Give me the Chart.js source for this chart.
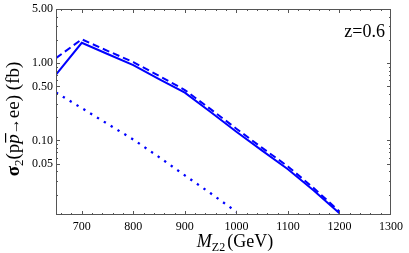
<!DOCTYPE html>
<html>
<head>
<meta charset="utf-8">
<script src="https://cdn.jsdelivr.net/npm/chart.js@4"></script>
<style>
  html, body { margin: 0; padding: 0; background: #fff; }
  #wrap { width: 409px; height: 253px; }
</style>
</head>
<body>
<div id="wrap"><canvas id="c" width="409" height="253"></canvas></div>
<script>
const masses = [650, 700, 750, 800, 850, 900, 950, 1000, 1050, 1100, 1150, 1200];
const solidXsec = [0.71, 1.83, 1.31, 0.94, 0.62, 0.415, 0.233, 0.13, 0.074, 0.0426, 0.0226, 0.0115];
const dashedXsec = [1.16, 2.03, 1.44, 1.03, 0.684, 0.449, 0.254, 0.142, 0.0804, 0.0462, 0.0243, 0.0121];
const dottedMasses = [650, 700, 750, 800, 850, 900, 950, 1000];
const dottedXsec = [0.417, 0.262, 0.164, 0.103, 0.061, 0.0354, 0.0208, 0.012];

const xTickLabels = [700, 800, 900, 1000, 1100, 1200, 1300];
const yTickLabels = [0.05, 0.1, 0.5, 1, 5];
const yMinorTicks = [0.02, 0.03, 0.04, 0.06, 0.07, 0.08, 0.09, 0.2, 0.3, 0.4, 0.6, 0.7, 0.8, 0.9, 2, 3, 4];

const SERIF = '"Liberation Serif", "DejaVu Serif", serif';
const BLUE = 'rgb(0,0,255)';

const pts = (xs, ys) => xs.map((m, i) => ({ x: m, y: ys[i] }));

// frame with inward ticks on all four sides (Mathematica style)
const frameTicks = {
    id: 'frameTicks',
    afterDatasetsDraw(chart) {
        const { ctx, chartArea: a, scales: { x, y } } = chart;
        ctx.save();
        ctx.strokeStyle = '#555';
        ctx.lineWidth = 1;
        ctx.strokeRect(a.left + 0.5, a.top + 0.5, a.right - a.left - 1, a.bottom - a.top - 1);
        ctx.beginPath();
        for (let v = 660; v < 1300; v += 20) {
            const px = Math.round(x.getPixelForValue(v)) + 0.5;
            const len = v % 100 === 0 ? 4 : 2;
            ctx.moveTo(px, a.bottom); ctx.lineTo(px, a.bottom - len);
            ctx.moveTo(px, a.top); ctx.lineTo(px, a.top + len);
        }
        const yt = yTickLabels.map(v => [v, 4]).concat(yMinorTicks.map(v => [v, 2]));
        yt.forEach(([v, len]) => {
            const py = Math.round(y.getPixelForValue(v)) + 0.5;
            ctx.moveTo(a.left, py); ctx.lineTo(a.left + len, py);
            ctx.moveTo(a.right, py); ctx.lineTo(a.right - len, py);
        });
        ctx.stroke();
        ctx.restore();
    }
};

// draw a run of styled text pieces starting at (x0, baseline)
function drawPieces(ctx, pieces, x0, base) {
    let x = x0;
    pieces.forEach(p => {
        ctx.font = p.font;
        const w = ctx.measureText(p.t).width;
        ctx.fillText(p.t, x, base + (p.dy || 0));
        if (p.over) {
            ctx.fillRect(x + 1, base - 14, w, 1.2);
        }
        x += w + (p.gap || 0);
    });
}
function piecesWidth(ctx, pieces) {
    return pieces.reduce((s, p) => { ctx.font = p.font; return s + ctx.measureText(p.t).width + (p.gap || 0); }, 0);
}

const titles = {
    id: 'titles',
    afterDraw(chart) {
        const ctx = chart.ctx;
        ctx.save();
        ctx.fillStyle = '#000';
        ctx.textBaseline = 'alphabetic';
        ctx.textAlign = 'left';

        // x title
        const xt = [
            { t: 'M', font: 'italic 18px ' + SERIF },
            { t: 'Z2', font: '12px ' + SERIF, dy: 4, gap: 2 },
            { t: '(GeV)', font: '18px ' + SERIF }
        ];
        const xw = piecesWidth(ctx, xt);
        drawPieces(ctx, xt, 235 - xw / 2, 247);

        // y title, rotated
        const ytl = [
            { t: 'σ', font: 'bold 19px ' + SERIF },
            { t: '2', font: '13px ' + SERIF, dy: 4 },
            { t: '(p', font: '19px ' + SERIF },
            { t: 'p', font: 'italic 19px ' + SERIF, over: true },
            { t: '→', font: '16px ' + SERIF },
            { t: 'ee) (fb)', font: '19px ' + SERIF }
        ];
        const yw = piecesWidth(ctx, ytl);
        ctx.translate(19, 119);
        ctx.rotate(-Math.PI / 2);
        drawPieces(ctx, ytl, -yw / 2, 0);
        ctx.restore();

        ctx.save();
        ctx.fillStyle = '#000';
        ctx.font = '18px ' + SERIF;
        ctx.textAlign = 'right';
        ctx.fillText('z=0.6', 385, 37);
        ctx.restore();
    }
};

const tickFont = { family: SERIF, size: 12, lineHeight: 1 };

new Chart(document.getElementById('c'), {
    type: 'line',
    data: {
        datasets: [
            { data: pts(masses, solidXsec), borderColor: BLUE, borderWidth: 2 },
            { data: pts(masses, dashedXsec), borderColor: BLUE, borderWidth: 2, borderDash: [7, 4] },
            { data: pts(dottedMasses, dottedXsec), borderColor: BLUE, borderWidth: 2.3, borderDash: [2.3, 5.7] }
        ]
    },
    options: {
        responsive: false,
        animation: false,
        elements: { point: { radius: 0 }, line: { tension: 0, fill: false } },
        layout: { padding: { left: 0, right: 16, top: 6, bottom: 0 } },
        plugins: { legend: { display: false }, tooltip: { enabled: false } },
        scales: {
            x: {
                type: 'linear', min: 650, max: 1300,
                grid: { display: false, drawTicks: false },
                border: { display: false },
                ticks: { font: tickFont, color: '#000', padding: 6, maxRotation: 0, autoSkip: false, callback: v => String(v) },
                afterBuildTicks: s => { s.ticks = xTickLabels.map(v => ({ value: v })); },
                afterFit: s => { s.height = 38; }
            },
            y: {
                type: 'logarithmic', min: 0.0109, max: 5,
                grid: { display: false, drawTicks: false },
                border: { display: false },
                ticks: { font: tickFont, color: '#000', padding: 3, autoSkip: false, callback: v => Number(v).toFixed(2) },
                afterBuildTicks: s => { s.ticks = yTickLabels.map(v => ({ value: v })); },
                afterFit: s => { s.width = 56; }
            }
        }
    },
    plugins: [frameTicks, titles]
});
</script>
</body>
</html>
